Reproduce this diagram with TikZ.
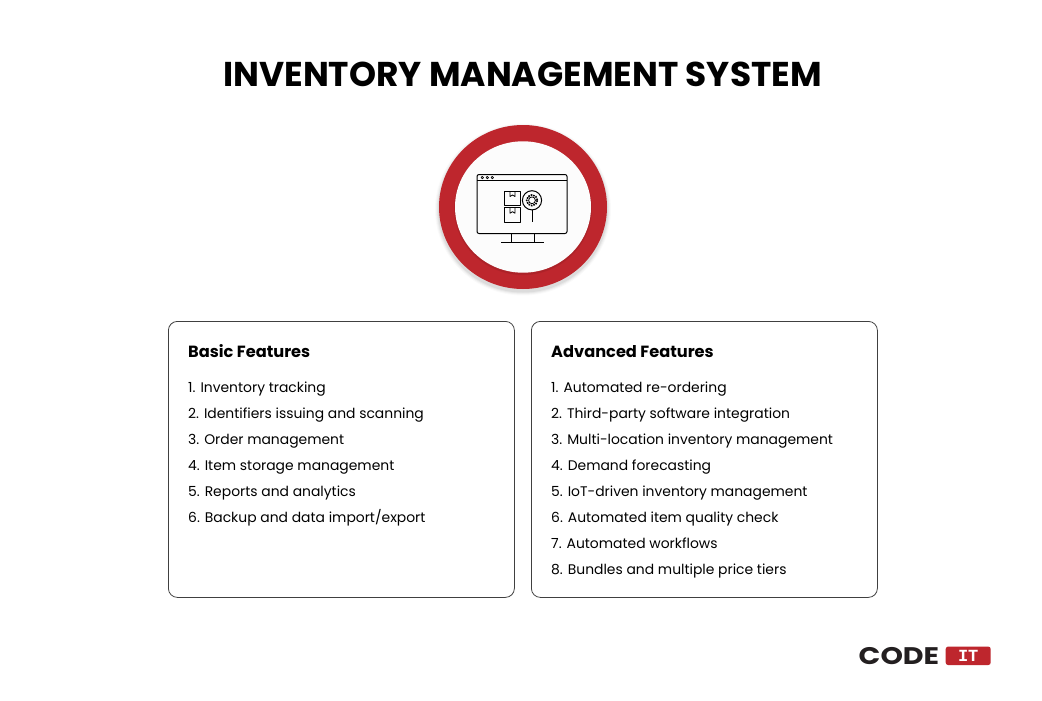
\documentclass[tikz,border=0pt]{standalone}
\usepackage{fontspec}
\setmainfont{Poppins}
\newfontfamily\logofont{Liberation Mono}
\usepackage{xcolor}
\usetikzlibrary{
    positioning,
    calc
}
\definecolor{codeRed}{RGB}{190, 38, 45}
\definecolor{codeDark}{RGB}{35, 31, 32}
\tikzset{
    card/.style={draw=black!75, line width=0.8pt, rounded corners=9pt, minimum width=346pt, minimum height=276pt, anchor=north west},
    cardHead/.style={anchor=base west, inner sep=0pt, font=\fontsize{16.2}{18}\selectfont\bfseries},
    cardItem/.style={anchor=base west, inner sep=0pt, font=\fontsize{13.9}{16}\selectfont},
    icon/.style={draw=black, line width=1pt, line join=round}
}

\begin{document}
\begin{tikzpicture}[x=1pt, y=-1pt]
        \useasboundingbox[fill=white] (0,0) rectangle (1042,701);

        % Title
        \node[anchor=base, inner sep=0pt, font=\fontsize{34.4}{38}\selectfont\bfseries] (title) at (522.5, 86.5) {INVENTORY MANAGEMENT SYSTEM};

        % Red ring
        \coordinate (hub) at (523, 207);
        \foreach \r/\o in {4/0.02, 3/0.03, 2/0.04, 1/0.05}
            \fill[black, opacity=\o] ($(hub)+(0,2.5)$) ellipse ({84+\r} and {82+\r});
        \fill[codeRed] (hub) ellipse (84 and 82);
        \foreach \r/\o in {1/0.04, 0.5/0.05}
            \fill[black, opacity=\o] ($(hub)+(0,1.5)$) ellipse ({68+\r} and {65.7+\r});
        \fill[black!1] (hub) ellipse (68 and 65.7);

        % Monitor
        \draw[icon, rounded corners=2pt] (477,174.5) rectangle (567,233.5);
        \draw[icon] (477,180.8) -- (567,180.8);
        \foreach \x in {482.3, 487.3, 492.3}
            \draw[icon, line width=0.7pt] (\x,177.6) circle (1.2);
        \draw[icon] (511,233.5) -- (511,242.5) (534,233.5) -- (534,242.5);
        \draw[icon] (501.3,242.5) -- (543.7,242.5);

        % Boxes
        \foreach \y in {191, 207.7} {
            \draw[icon] (504.7,\y) rectangle (520.3,\y+14.5);
            \draw[icon, line width=0.8pt] (510,\y) -- (510,\y+5.5) -- (512.5,\y+4) -- (515,\y+5.5) -- (515,\y);
        }

        % Magnifier
        \draw[icon] (532,200.3) circle (9.6);
        \draw[icon, line width=0.8pt] (532,200.3) circle (3.4);
        \draw[icon, line width=1.6pt, dash pattern=on 1.6pt off 1pt] (532,200.3) circle (5.4);
        \draw[icon] (532,209.9) -- (532,222.3);

        % Basic features
        \node[card] (basic) at (168, 321) {};
        \node[cardHead] (basicHead) at (188, 357) {Basic Features};
        \foreach \t [count=\i] in {1. Inventory tracking, 2. Identifiers issuing and scanning, 3. Order management, 4. Item storage management, 5. Reports and analytics, 6. Backup and data import/export}
            \node[cardItem] (basic\i) at (188, 366+26*\i) {\t};

        % Advanced features
        \node[card] (advanced) at (531, 321) {};
        \node[cardHead] (advancedHead) at (551, 357) {Advanced Features};
        \foreach \t [count=\i] in {1. Automated re-ordering, 2. Third-party software integration, 3. Multi-location inventory management, 4. Demand forecasting, 5. IoT-driven inventory management, 6. Automated item quality check, 7. Automated workflows, 8. Bundles and multiple price tiers}
            \node[cardItem] (advanced\i) at (551, 366+26*\i) {\t};

        % Logo
        \node[anchor=base west, inner sep=0pt, text=codeDark, xscale=1.19, font=\fontsize{24}{24}\selectfont\bfseries] (logoCode) at (858.5, 664.5) {CODE};
        \node[fill=codeRed, rounded corners=2.5pt, minimum width=45pt, minimum height=18.5pt, inner sep=0pt] (logoBadge) at (968.2, 655.8) {};
        \node[inner sep=0pt, text=white, font=\logofont\fontsize{17}{17}\selectfont\bfseries] (logoIt) at (logoBadge) {IT};
\end{tikzpicture}
\end{document}
